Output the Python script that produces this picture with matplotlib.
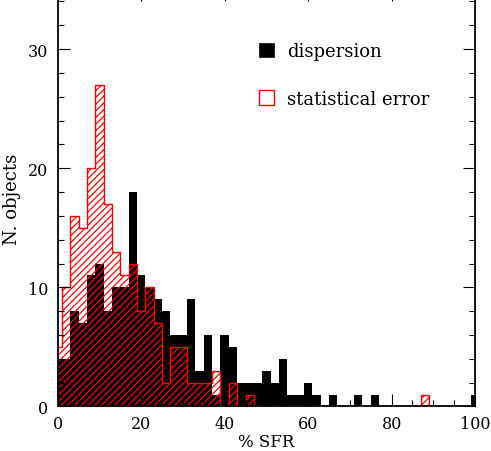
"""Histogram of SFR uncertainty: dispersion vs statistical error."""
import numpy as np
import matplotlib
matplotlib.use("Agg")
import matplotlib.pyplot as plt
from matplotlib.patches import Patch
from matplotlib.ticker import MultipleLocator

# bin centres (% SFR), bins are 2 wide
BIN_CENTRES = list(range(0, 101, 2))

DISPERSION = [
    4, 4, 8, 7, 11, 12, 8, 10, 10, 18,
    11, 10, 9, 8, 6, 6, 9, 3, 6, 1,
    6, 5, 2, 2, 2, 3, 2, 4, 1, 1,
    2, 1, 0, 1, 0, 0, 1, 0, 1, 0,
    0, 0, 0, 0, 0, 0, 0, 0, 0, 0,
    1,
]

STAT_ERROR = [
    5, 10, 16, 15, 20, 27, 17, 13, 11, 12,
    8, 10, 7, 2, 5, 5, 2, 2, 2, 3,
    0, 2, 0, 1, 0, 0, 0, 0, 0, 0,
    0, 0, 0, 0, 0, 0, 0, 0, 0, 0,
    0, 0, 0, 0, 1, 0, 0, 0, 0, 0,
    0,
]

plt.rcParams["font.family"] = ["DejaVu Serif"]
plt.rcParams["hatch.linewidth"] = 0.9
plt.rcParams["hatch.color"] = "red"


def main():
    centres = np.array(BIN_CENTRES, dtype=float)
    edges = np.append(centres - 1, centres[-1] + 1)

    fig = plt.figure(figsize=(4.91, 4.52), dpi=100)
    ax = fig.add_axes([0.1175, 0.0985, 0.850, 0.9226])

    ax.stairs(DISPERSION, edges, fill=True, color="black", linewidth=0)
    ax.stairs(STAT_ERROR, edges, fill=True, facecolor="none",
              edgecolor="red", hatch="/////", linewidth=1.0)

    ax.set_xlim(0, 100)
    ax.set_ylim(0, 35)
    ax.xaxis.set_major_locator(MultipleLocator(20))
    ax.xaxis.set_minor_locator(MultipleLocator(5))
    ax.yaxis.set_major_locator(MultipleLocator(10))
    ax.yaxis.set_minor_locator(MultipleLocator(2))
    ax.tick_params(which="both", direction="in", top=True, right=True,
                   width=0.8, labelsize=11.5)
    ax.tick_params(which="major", length=8.6)
    ax.tick_params(which="minor", length=4)
    ax.tick_params(axis="x", which="major", pad=6)
    ax.tick_params(axis="y", which="major", pad=7)
    for sp in ax.spines.values():
        sp.set_linewidth(1.3)

    ax.set_xlabel("% SFR", fontsize=12, labelpad=1)
    ax.set_ylabel("N. objects", fontsize=13, labelpad=5)

    handles = [
        Patch(facecolor="black", edgecolor="black", linewidth=0.5),
        Patch(facecolor="white", edgecolor="red", linewidth=1.0),
    ]
    ax.legend(handles, ["dispersion", "statistical error"],
              loc="upper left", bbox_to_anchor=(259 / 491, 1 - 43 / 452),
              bbox_transform=fig.transFigure, frameon=False, fontsize=13,
              handlelength=0.85, handleheight=0.85, handletextpad=0.7,
              labelspacing=1.65, borderpad=0, borderaxespad=0)

    fig.savefig("out.png", dpi=100)


if __name__ == "__main__":
    main()
